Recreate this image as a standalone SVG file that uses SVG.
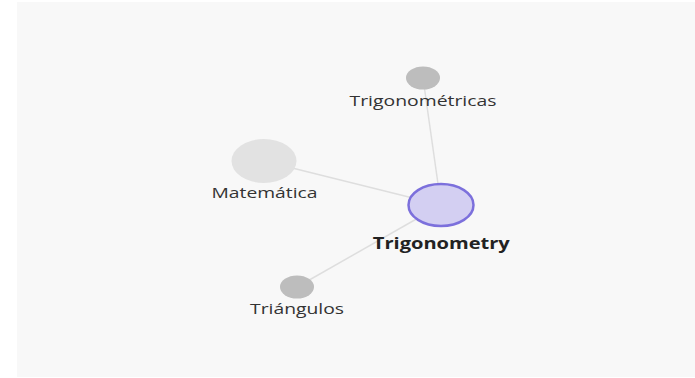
<svg xmlns="http://www.w3.org/2000/svg" width="695" height="378" viewBox="0 0 695 378">
<style>
.lbl{font-family:"Open Sans","Noto Sans","Liberation Sans",sans-serif;font-size:15px;fill:#333;text-anchor:middle}
.bold{font-weight:bold;font-size:16px;fill:#222}
.edge{stroke:#dedede;stroke-width:1.5;fill:none}
.small{fill:#bdbdbd}
</style>
<rect x="0" y="0" width="695" height="378" fill="#ffffff"/>
<rect x="17" y="2" width="678" height="375" fill="#f8f8f8"/>
<g id="connectors">
<line class="edge" x1="423" y1="78" x2="441" y2="205"/>
<line class="edge" x1="264" y1="161" x2="441" y2="205"/>
<line class="edge" x1="297" y1="287" x2="441" y2="205"/>
</g>
<g id="node-trigonometricas">
<ellipse class="small" cx="423" cy="78" rx="17" ry="11.5"/>
<text class="lbl" x="423" y="106" textLength="147" lengthAdjust="spacingAndGlyphs">Trigonométricas</text>
</g>
<g id="node-matematica">
<ellipse cx="264" cy="161" rx="32.5" ry="22" fill="#e2e2e2"/>
<text class="lbl" x="264.5" y="198" textLength="106" lengthAdjust="spacingAndGlyphs">Matemática</text>
</g>
<g id="node-trigonometry">
<ellipse cx="441" cy="205" rx="32.5" ry="21" fill="#d3cff2" stroke="#7c70dc" stroke-width="2.5"/>
<text class="lbl bold" x="441.3" y="249" textLength="137" lengthAdjust="spacingAndGlyphs">Trigonometry</text>
</g>
<g id="node-triangulos">
<ellipse class="small" cx="297" cy="287" rx="17" ry="11.5"/>
<text class="lbl" x="297" y="314" textLength="94" lengthAdjust="spacingAndGlyphs">Triángulos</text>
</g>
</svg>
